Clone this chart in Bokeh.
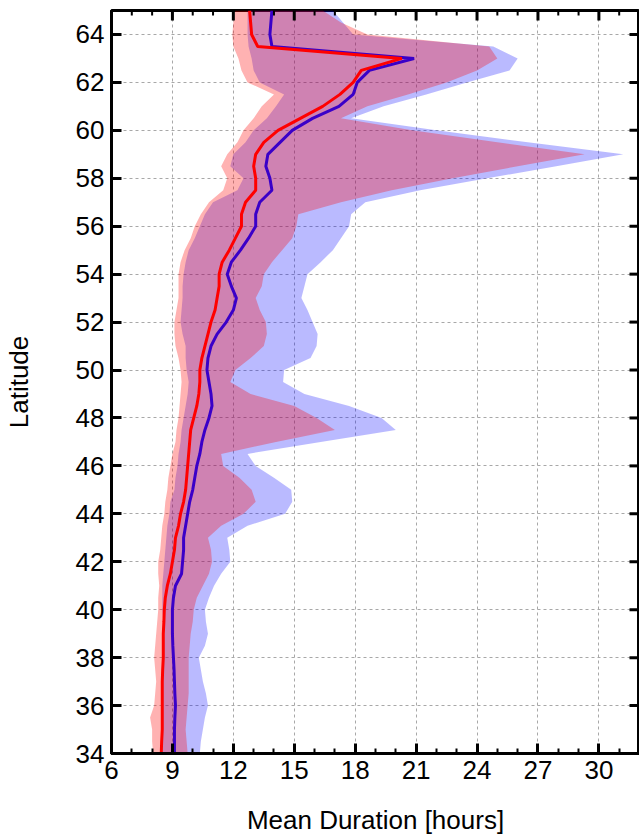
import math
from bokeh.plotting import figure
from bokeh.models import Range1d, FixedTicker
from bokeh.embed import file_html
from bokeh.resources import INLINE

# Latitude grid (degrees), 0.5 degree steps
lat = [34.0 + 0.5 * i for i in range(63)]

# Mean durations [hours]
red_mean = [8.45, 8.47, 8.5, 8.5, 8.5, 8.5, 8.5, 8.52, 8.55, 8.55, 8.55, 8.58, 8.6, 8.65, 8.75, 8.9,
            9.0, 9.1, 9.15, 9.3, 9.4, 9.55, 9.65, 9.7, 9.75, 9.8, 9.85, 9.9, 10.05, 10.2, 10.3, 10.35,
            10.35, 10.45, 10.6, 10.75, 10.9, 11.1, 11.2, 11.3, 11.3, 11.45, 11.8, 12.1, 12.4, 12.4,
            12.6, 13.1, 13.1, 13.0, 13.1, 13.5, 14.2, 15.3, 16.4, 17.25, 17.9, 18.3, 20.3, 13.2, 12.9,
            12.85, 12.8]
blue_mean = [9.1, 9.1, 9.1, 9.12, 9.15, 9.12, 9.1, 9.08, 9.05, 9.02, 9.0, 9.0, 9.0, 9.05, 9.15, 9.45,
             9.5, 9.55, 9.55, 9.65, 9.75, 9.85, 10.0, 10.1, 10.2, 10.35, 10.45, 10.6, 10.8, 10.95, 10.9,
             10.8, 10.7, 10.75, 10.9, 11.2, 11.65, 12.0, 12.15, 11.9, 11.7, 11.9, 12.35, 12.75, 13.1,
             13.1, 13.3, 13.9, 13.8, 13.6, 13.7, 14.3, 14.9, 15.9, 17.2, 17.9, 18.1, 18.7, 20.9, 13.9,
             13.8, 13.85, 13.9]

# Spread bands [hours]
red_low = [8.05, 8.0, 8.0, 7.9, 8.1, 8.15, 8.2, 8.15, 8.1, 8.15, 8.2, 8.25, 8.3, 8.3, 8.35, 8.3,
           8.3, 8.4, 8.45, 8.5, 8.6, 8.65, 8.75, 8.8, 8.9, 9.0, 9.15, 9.2, 9.3, 9.35, 9.4, 9.45,
           9.4, 9.3, 9.15, 9.1, 9.1, 9.2, 9.3, 9.3, 9.3, 9.4, 9.6, 9.9, 10.1, 10.4, 10.8, 11.5,
           11.7, 11.4, 11.7, 12.2, 12.5, 13.0, 13.4, 14.0, 12.7, 12.4, 12.25, 12.0, 11.95, 12.0, 12.1]
red_high = [9.75, 9.7, 9.65, 9.7, 9.75, 9.8, 9.8, 9.8, 9.8, 9.85, 9.9, 10.0, 10.05, 10.2, 10.5, 10.8,
            10.95, 10.9, 10.75, 11.4, 12.5, 13.1, 12.9, 12.3, 11.5, 11.4, 14.1, 17.0, 16.1, 15.0,
            12.85, 11.85, 12.1, 12.85, 13.5, 13.65, 13.6, 13.3, 13.1, 13.4, 13.5, 13.9, 14.4, 14.9,
            15.1, 15.2, 17.3, 19.8, 22.8, 26.0, 29.3, 25.0, 20.8, 17.3, 18.6, 20.6, 22.5, 24.0, 25.0,
            24.6, 18.6, 17.3, 16.4]
blue_low = [8.5, 8.48, 8.45, 8.45, 8.45, 8.48, 8.5, 8.52, 8.55, 8.58, 8.6, 8.55, 8.5, 8.5, 8.5, 8.55,
            8.6, 8.65, 8.7, 8.75, 8.85, 8.9, 9.1, 9.15, 9.25, 9.3, 9.4, 9.45, 9.55, 9.65, 9.75, 9.8,
            9.7, 9.65, 9.65, 9.5, 9.4, 9.45, 9.5, 9.5, 9.55, 9.65, 9.8, 10.1, 10.35, 10.6, 11.0, 12.2,
            12.5, 11.85, 12.0, 12.6, 13.0, 13.65, 14.1, 14.5, 13.3, 13.0, 12.9, 12.75, 12.7, 12.7, 12.7]
blue_high = [10.35, 10.4, 10.5, 10.6, 10.75, 10.65, 10.5, 10.4, 10.3, 10.6, 10.75, 10.65, 10.6, 10.8,
             11.05, 11.4, 11.85, 11.8, 11.7, 12.7, 14.55, 14.9, 14.85, 14.0, 13.1, 12.7, 16.3, 20.0,
             19.3, 17.7, 15.5, 14.45, 14.5, 15.8, 16.1, 16.15, 15.9, 15.65, 15.35, 15.5, 15.65, 16.3,
             16.9, 17.3, 17.7, 17.8, 18.5, 21.2, 24.5, 27.9, 31.2, 26.5, 22.0, 17.8, 19.4, 21.5, 23.5,
             25.6, 26.0, 24.8, 17.9, 17.4, 16.9]

x_major = [6, 9, 12, 15, 18, 21, 24, 27, 30]
x_minor = [7, 8, 10, 11, 13, 14, 16, 17, 19, 20, 22, 23, 25, 26, 28, 29, 31]
y_major = [34, 36, 38, 40, 42, 44, 46, 48, 50, 52, 54, 56, 58, 60, 62, 64]
X0, X1 = 6, 32
Y0, Y1 = 34, 65

FONT = "Liberation Sans"
FS = "26px"

p = figure(width=639, height=837, output_backend="svg", toolbar_location=None,
           x_range=Range1d(X0, X1), y_range=Range1d(Y0, Y1),
           min_border_left=111, min_border_right=0, min_border_top=10, min_border_bottom=82,
           x_axis_label="Mean Duration [hours]", y_axis_label="Latitude")
p.outline_line_color = "black"
p.outline_line_width = 3
p.background_fill_color = "white"

xt = FixedTicker(ticks=x_major, minor_ticks=x_minor)
yt = FixedTicker(ticks=y_major, minor_ticks=[])
for ax, tk in ((p.xaxis[0], xt), (p.yaxis[0], yt)):
    ax.ticker = tk
    ax.axis_line_width = 3
    ax.axis_line_color = "black"
    ax.major_tick_in = 10
    ax.major_tick_out = 0
    ax.minor_tick_in = 5
    ax.minor_tick_out = 0
    ax.major_tick_line_width = 3
    ax.minor_tick_line_width = 2
    ax.major_tick_line_color = "black"
    ax.minor_tick_line_color = "black"
    ax.major_label_text_font = FONT
    ax.major_label_text_font_size = FS
    ax.major_label_text_color = "black"
    ax.axis_label_text_font = FONT
    ax.axis_label_text_font_size = FS
    ax.axis_label_text_font_style = "normal"
    ax.axis_label_text_color = "black"
p.xaxis[0].major_label_standoff = 7
p.xaxis[0].axis_label_standoff = 23
p.yaxis[0].major_label_standoff = 7
p.yaxis[0].axis_label_standoff = 39

p.xgrid.ticker = xt
p.ygrid.ticker = yt
for g in (p.xgrid[0], p.ygrid[0]):
    g.grid_line_color = "#a8a8a8"
    g.grid_line_dash = "3 3"
    g.grid_line_width = 1

# bands and lines (blue first, red on top)
p.harea(x1=blue_low, x2=blue_high, y=lat, fill_color="#0000ff", fill_alpha=0.27)
p.harea(x1=red_low, x2=red_high, y=lat, fill_color="#ff0000", fill_alpha=0.3)
p.line(blue_mean, lat, line_color="#3a00c8", line_width=3)
p.line(red_mean, lat, line_color="#ff0000", line_width=3)

# inward ticks on the top and right frame edges (mirroring the axes)
p.ray(x=x_major, y=[Y1] * len(x_major), length=10, angle=-math.pi / 2,
      length_units="screen", line_color="black", line_width=3)
p.ray(x=x_minor, y=[Y1] * len(x_minor), length=5, angle=-math.pi / 2,
      length_units="screen", line_color="black", line_width=2)
p.ray(x=[X1] * len(y_major), y=y_major, length=10, angle=math.pi,
      length_units="screen", line_color="black", line_width=3)

open("out.html", "w").write(file_html(p, INLINE))
